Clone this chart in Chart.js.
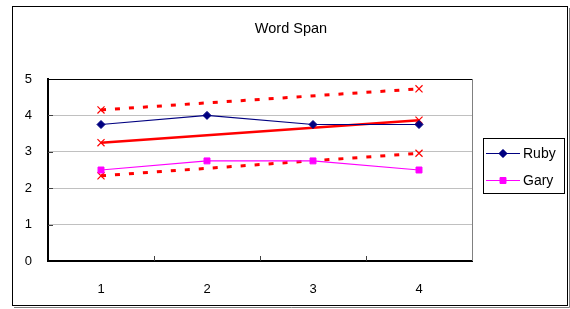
<!DOCTYPE html>
<html>
<head>
<meta charset="utf-8">
<script src="https://cdn.jsdelivr.net/npm/chart.js@4"></script>
<style>
  html, body { margin: 0; padding: 0; background: #fff; }
  #wrap { width: 570px; height: 309px; }
</style>
</head>
<body>
<div id="wrap"><canvas id="chart" width="570" height="309"></canvas></div>
<script>
const categories = ['1', '2', '3', '4'];
const rubyValues = [3.75, 4, 3.75, 3.75];
const garyValues = [2.5, 2.75, 2.75, 2.5];
// red lines only have end points, the line between is straight
const trendValues = [3.25, null, null, 3.87];
const upperValues = [4.15, null, null, 4.73];
const lowerValues = [2.34, null, null, 2.96];
const yTicks = [0, 1, 2, 3, 4, 5];

const FONT = '"Liberation Sans", Arial, sans-serif';

// white page, outer frame, plot right border, inside tick marks
const framePlugin = {
    id: 'frame',
    beforeDraw(chart) {
        const ctx = chart.ctx;
        ctx.save();
        ctx.fillStyle = '#ffffff';
        ctx.fillRect(0, 0, chart.width, chart.height);
        ctx.strokeStyle = '#000000';
        ctx.lineWidth = 1;
        ctx.strokeRect(12.5, 6.5, 555, 299);
        ctx.strokeStyle = '#808080';
        ctx.beginPath();
        ctx.moveTo(569.5, 8);
        ctx.lineTo(569.5, 307.5);
        ctx.lineTo(14, 307.5);
        ctx.stroke();
        ctx.restore();
    },
    beforeDatasetsDraw(chart) {
        const ctx = chart.ctx;
        const area = chart.chartArea;
        const x = chart.scales.x;
        const y = chart.scales.y;
        ctx.save();
        ctx.strokeStyle = '#808080';
        ctx.lineWidth = 1;
        ctx.beginPath();
        ctx.moveTo(area.right + 0.5, area.top);
        ctx.lineTo(area.right + 0.5, area.bottom);
        ctx.stroke();

        ctx.strokeStyle = '#404040';
        ctx.beginPath();
        yTicks.slice(1, -1).forEach(v => {
            const py = Math.round(y.getPixelForValue(v)) + 0.5;
            ctx.moveTo(area.left, py);
            ctx.lineTo(area.left + 5, py);
        });
        for (let i = 0; i < categories.length - 1; i++) {
            const px = Math.round((x.getPixelForValue(i) + x.getPixelForValue(i + 1)) / 2) + 0.5;
            ctx.moveTo(px, area.bottom);
            ctx.lineTo(px, area.bottom - 5);
        }
        ctx.stroke();
        ctx.restore();
    }
};

// boxed legend with a line and marker sample
const legendPlugin = {
    id: 'boxLegend',
    afterDraw(chart) {
        const ctx = chart.ctx;
        const items = [0, 1];
        ctx.save();
        ctx.fillStyle = '#ffffff';
        ctx.fillRect(483, 138, 81, 55);
        ctx.strokeStyle = '#000000';
        ctx.lineWidth = 1;
        ctx.strokeRect(483.5, 138.5, 81, 55);
        items.forEach((di, i) => {
            const ds = chart.data.datasets[di];
            const ly = 153 + i * 27;
            ctx.strokeStyle = ds.borderColor;
            ctx.lineWidth = 1;
            ctx.beginPath();
            ctx.moveTo(486, ly + 0.5);
            ctx.lineTo(520, ly + 0.5);
            ctx.stroke();
            ctx.fillStyle = ds.borderColor;
            Chart.helpers.drawPoint(ctx, {
                pointStyle: ds.pointStyle,
                radius: ds.pointRadius,
                borderWidth: 1,
                rotation: 0
            }, 503, ly + 0.5);
            ctx.fill();
            ctx.fillStyle = '#000000';
            ctx.font = '14px ' + FONT;
            ctx.textBaseline = 'middle';
            ctx.textAlign = 'left';
            ctx.fillText(ds.label, 523, ly + 1);
        });
        ctx.restore();
    }
};

new Chart(document.getElementById('chart'), {
    type: 'line',
    data: {
        labels: categories,
        datasets: [
            {
                label: 'Ruby',
                data: rubyValues,
                borderColor: '#000080',
                backgroundColor: '#000080',
                borderWidth: 1.2,
                pointStyle: 'rectRot',
                pointRadius: 4,
                pointBorderWidth: 1
            },
            {
                label: 'Gary',
                data: garyValues,
                borderColor: '#FF00FF',
                backgroundColor: '#FF00FF',
                borderWidth: 1.2,
                pointStyle: 'rect',
                pointRadius: 4.2,
                pointBorderWidth: 1
            },
            {
                label: 'trend',
                data: trendValues,
                spanGaps: true,
                borderColor: '#FF0000',
                backgroundColor: '#FF0000',
                borderWidth: 2.5,
                pointStyle: 'crossRot',
                pointRadius: 5,
                pointBorderWidth: 1.2
            },
            {
                label: 'upper',
                data: upperValues,
                spanGaps: true,
                borderColor: '#FF0000',
                backgroundColor: '#FF0000',
                borderWidth: 3,
                borderDash: [5, 9],
                pointStyle: 'crossRot',
                pointRadius: 5,
                pointBorderWidth: 1.2
            },
            {
                label: 'lower',
                data: lowerValues,
                spanGaps: true,
                borderColor: '#FF0000',
                backgroundColor: '#FF0000',
                borderWidth: 3,
                borderDash: [5, 9],
                pointStyle: 'crossRot',
                pointRadius: 5,
                pointBorderWidth: 1.2
            }
        ]
    },
    options: {
        responsive: false,
        animation: false,
        devicePixelRatio: 1,
        layout: {
            padding: { left: 12, right: 0, top: 0, bottom: 0 }
        },
        elements: {
            line: { tension: 0, fill: false }
        },
        plugins: {
            legend: { display: false },
            tooltip: { enabled: false },
            title: {
                display: true,
                text: 'Word Span',
                color: '#000000',
                font: { size: 14.5, weight: 'normal', family: FONT, lineHeight: 1.2 },
                padding: { top: 20.3, bottom: 41.3 }
            }
        },
        scales: {
            x: {
                offset: true,
                grid: { display: false, drawTicks: false },
                border: { display: true, color: '#000000', width: 2 },
                ticks: {
                    color: '#000000',
                    font: { size: 13, family: FONT },
                    padding: 21
                },
                afterFit(scale) { scale.height = 48; }
            },
            y: {
                min: 0,
                max: 5,
                afterBuildTicks(scale) { scale.ticks = yTicks.map(v => ({ value: v })); },
                grid: {
                    drawTicks: false,
                    color: ctx => (ctx.tick && ctx.tick.value === 5) ? '#000000' : '#c0c0c0',
                    lineWidth: 1
                },
                border: { display: true, color: '#000000', width: 2 },
                ticks: {
                    color: '#000000',
                    font: { size: 13, family: FONT },
                    padding: 16
                },
                afterFit(scale) { scale.width = 36; }
            },
            // empty right-hand space that holds the legend
            side: {
                type: 'linear',
                position: 'right',
                min: 0,
                max: 5,
                grid: { display: false, drawTicks: false },
                border: { display: false },
                ticks: { display: false },
                afterFit(scale) { scale.width = 98; }
            }
        }
    },
    plugins: [framePlugin, legendPlugin]
});
</script>
</body>
</html>
